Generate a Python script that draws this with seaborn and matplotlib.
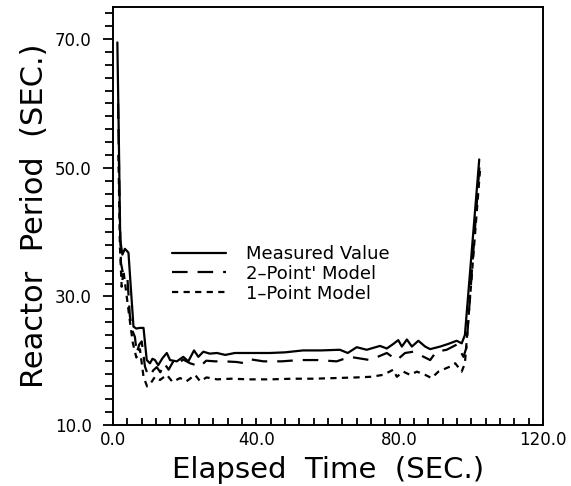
import numpy as np
import pandas as pd
import matplotlib
matplotlib.use("Agg")
import matplotlib.pyplot as plt
from matplotlib.ticker import MultipleLocator, FixedLocator
import seaborn as sns

# Measured reactor period vs. elapsed time
t_measured = [1.2, 1.6, 2.0, 2.6, 3.3, 4.3, 5.0, 5.7, 6.5, 7.5, 8.5, 9.4, 10.3,
              11.0, 11.7, 12.6, 13.8, 15.0, 15.9, 17.8, 19.6, 21.0, 22.6, 23.8,
              25.2, 27.0, 29.0, 31.3, 34.0, 38.2, 43.8, 48.0, 53.0, 58.0, 63.3,
              65.5, 68.0, 70.8, 74.5, 76.4, 78.2, 79.6, 80.6, 82.0, 83.4, 85.2,
              87.1, 88.5, 91.3, 93.5, 95.9, 97.3, 98.2, 102.2]
p_measured = [69.5, 55.0, 38.8, 36.5, 37.4, 36.8, 31.0, 25.3, 25.0, 25.1, 25.1,
              20.1, 19.6, 20.3, 20.1, 19.3, 20.4, 21.2, 20.1, 19.9, 20.6, 19.9,
              21.6, 20.6, 21.4, 21.1, 21.2, 20.9, 21.2, 21.2, 21.2, 21.3, 21.6,
              21.6, 21.7, 21.2, 22.1, 21.7, 22.3, 21.9, 22.6, 23.2, 22.2, 23.3,
              22.2, 23.1, 22.2, 21.8, 22.2, 22.6, 23.1, 22.7, 24.0, 51.3]

# Two-point kinetics model
t_two = [1.4, 1.8, 2.2, 2.8, 3.5, 4.0, 4.7, 5.5, 6.1, 6.6, 7.3, 8.0, 8.9, 9.6,
         10.4, 11.2, 12.2, 13.2, 14.3, 15.5, 16.8, 18.0, 19.5, 21.5, 24.3, 26.0,
         28.5, 31.0, 34.5, 36.8, 38.5, 42.0, 47.0, 52.0, 57.0, 62.4, 66.1, 71.7,
         76.4, 79.2, 81.5, 83.8, 86.0, 88.5, 90.2, 93.1, 95.9, 97.8, 98.6, 102.3]
p_two = [60.0, 45.0, 35.2, 33.5, 33.0, 32.9, 26.9, 24.5, 23.7, 21.2, 22.5, 23.0,
         19.1, 18.0, 17.6, 18.5, 19.0, 18.2, 19.6, 18.6, 19.9, 19.3, 20.2, 19.6,
         19.1, 20.0, 19.9, 19.9, 19.8, 19.6, 20.2, 19.9, 19.9, 20.1, 20.1, 19.9,
         20.6, 20.1, 21.2, 20.1, 21.2, 21.4, 20.8, 20.1, 21.4, 21.7, 22.5, 20.6,
         22.0, 50.5]

# One-point kinetics model
t_one = [1.5, 1.9, 2.4, 2.9, 3.7, 4.5, 5.5, 6.5, 7.5, 8.5, 9.5, 10.5, 11.7, 13.1,
         15.0, 16.6, 18.7, 20.5, 22.9, 24.3, 26.1, 29.0, 33.0, 38.0, 44.0, 50.0,
         56.0, 62.0, 68.0, 72.0, 75.4, 78.2, 79.2, 81.0, 82.9, 84.8, 87.1, 88.9,
         90.8, 92.0, 94.1, 95.5, 97.3, 98.2, 102.4]
p_one = [52.0, 38.0, 31.5, 34.0, 30.5, 27.0, 22.8, 20.5, 21.8, 17.5, 16.0, 16.5,
         17.5, 17.0, 17.8, 16.7, 17.3, 16.8, 17.8, 16.8, 17.4, 17.1, 17.2, 17.1,
         17.1, 17.2, 17.2, 17.3, 17.4, 17.5, 17.8, 18.6, 17.5, 18.3, 17.8, 18.3,
         17.8, 17.3, 18.3, 18.6, 19.1, 19.6, 18.3, 19.6, 49.5]

labels = ["Measured Value", "2\u2013Point' Model", "1\u2013Point Model"]

df = pd.concat([
    pd.DataFrame({"t": t_measured, "period": p_measured, "series": labels[0]}),
    pd.DataFrame({"t": t_two, "period": p_two, "series": labels[1]}),
    pd.DataFrame({"t": t_one, "period": p_one, "series": labels[2]}),
], ignore_index=True)

sns.set_theme(style="ticks")
plt.rcParams["font.family"] = ["DejaVu Sans"]
plt.rcParams.update({"text.color": "black", "axes.labelcolor": "black",
                     "xtick.color": "black", "ytick.color": "black"})

fig = plt.figure(figsize=(5.71, 4.86), dpi=100)
ax = fig.add_axes([0.198, 0.1255, 0.753, 0.860])

lw = 1.6
sns.lineplot(data=df, x="t", y="period", style="series", sort=False,
             estimator=None, color="black", linewidth=lw, ax=ax,
             style_order=labels,
             dashes={labels[0]: "", labels[1]: (7, 4.5), labels[2]: (2.8, 2.4)})

ax.set_xlim(0, 120)
ax.set_ylim(10, 75)

ax.xaxis.set_major_locator(FixedLocator([0, 40, 80, 120]))
ax.xaxis.set_minor_locator(MultipleLocator(4))
ax.yaxis.set_major_locator(FixedLocator([10, 30, 50, 70]))
ax.yaxis.set_minor_locator(MultipleLocator(2))
ax.set_xticklabels(["0.0", "40.0", "80.0", "120.0"])
ax.set_yticklabels(["10.0", "30.0", "50.0", "70.0"])

ax.tick_params(axis="x", which="both", direction="in", length=5, width=1.3,
               labelsize=12, pad=4)
ax.tick_params(axis="y", which="major", direction="out", length=7.5, width=1.3,
               labelsize=12, pad=8)
ax.tick_params(axis="y", which="minor", direction="out", length=5.5, width=1.3)

for side in ["left", "right", "top", "bottom"]:
    ax.spines[side].set_visible(True)
    ax.spines[side].set_color("black")
    ax.spines[side].set_linewidth(1.4)

ax.set_xlabel("Elapsed  Time  (SEC.)", fontsize=21, labelpad=5)
ax.set_ylabel("Reactor  Period  (SEC.)", fontsize=22, labelpad=4)

leg = ax.legend(loc="center left", bbox_to_anchor=(0.137, 0.362),
                frameon=False, fontsize=13, handlelength=3.0,
                handletextpad=1.1, labelspacing=0.1, borderpad=0,
                borderaxespad=0)
for line in leg.get_lines():
    line.set_linewidth(lw)

fig.savefig("out.png", dpi=100)
